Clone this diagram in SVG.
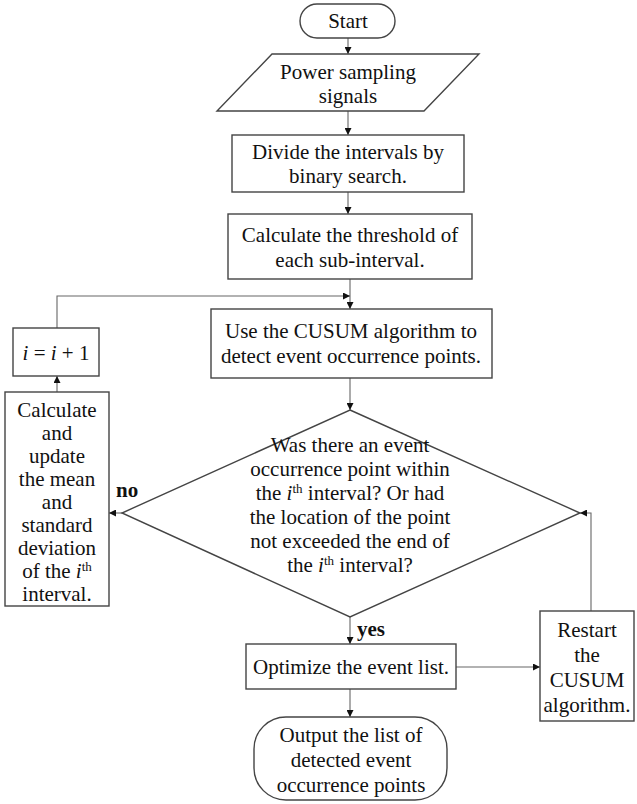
<svg xmlns="http://www.w3.org/2000/svg" width="637" height="804" viewBox="0 0 637 804">
<defs>
<marker id="ah" viewBox="0 0 10 10" refX="10" refY="5" markerWidth="7" markerHeight="7" markerUnits="userSpaceOnUse" orient="auto">
<path d="M0,0 L10,5 L0,10 z" fill="#111"/>
</marker>
<style>
.box{fill:#fff;stroke:#444;stroke-width:1.4}
.t{font-family:"Liberation Serif","Times New Roman",serif;font-size:21px;fill:#111;text-anchor:middle}
.lbl{font-family:"Liberation Serif","Times New Roman",serif;font-size:21px;font-weight:bold;fill:#111}
.c{fill:none;stroke:#666;stroke-width:1.1}
.sup{font-size:13px}
</style>
</defs>
<rect width="637" height="804" fill="#fff"/>
<g id="connectors">
<line class="c" x1="348" y1="38" x2="348" y2="54" marker-end="url(#ah)"/>
<line class="c" x1="348" y1="111" x2="348" y2="135" marker-end="url(#ah)"/>
<line class="c" x1="348" y1="192" x2="348" y2="214" marker-end="url(#ah)"/>
<line class="c" x1="350" y1="279" x2="350" y2="309" marker-end="url(#ah)"/>
<polyline class="c" points="57,328 57,296 350,296" marker-end="url(#ah)"/>
<line class="c" x1="350" y1="378" x2="350" y2="410" marker-end="url(#ah)"/>
<line class="c" x1="122" y1="513" x2="109" y2="513" marker-end="url(#ah)"/>
<line class="c" x1="57" y1="392" x2="57" y2="376" marker-end="url(#ah)"/>
<line class="c" x1="350" y1="617" x2="350" y2="644" marker-end="url(#ah)"/>
<line class="c" x1="456" y1="667" x2="540" y2="667" marker-end="url(#ah)"/>
<polyline class="c" points="591,611 591,513 580,513" marker-end="url(#ah)"/>
<line class="c" x1="350" y1="689" x2="350" y2="717" marker-end="url(#ah)"/>
<text class="lbl" x="116" y="497">no</text>
<text class="lbl" x="357" y="636">yes</text>
</g>
<g id="start">
<rect class="box" x="300" y="4" width="95" height="34" rx="17"/>
<text class="t" x="348" y="28">Start</text>
</g>
<g id="input">
<polygon class="box" points="272,54 479,54 424,111 217,111"/>
<text class="t" x="348" y="79">Power sampling</text>
<text class="t" x="348" y="103">signals</text>
</g>
<g id="divide">
<rect class="box" x="232" y="135" width="232" height="57"/>
<text class="t" x="348" y="159">Divide the intervals by</text>
<text class="t" x="348" y="183">binary search.</text>
</g>
<g id="threshold">
<rect class="box" x="228" y="214" width="244" height="65"/>
<text class="t" x="350" y="242">Calculate the threshold of</text>
<text class="t" x="350" y="267">each sub-interval.</text>
</g>
<g id="cusum">
<rect class="box" x="211" y="309" width="281" height="69"/>
<text class="t" x="351" y="338">Use the CUSUM algorithm to</text>
<text class="t" x="351" y="363">detect event occurrence points.</text>
</g>
<g id="increment">
<rect class="box" x="13" y="328" width="86" height="48"/>
<text class="t" x="56" y="360"><tspan font-style="italic">i</tspan> = <tspan font-style="italic">i</tspan> + 1</text>
</g>
<g id="update">
<rect class="box" x="5" y="392" width="104" height="214"/>
<text class="t" x="57" y="417">Calculate</text>
<text class="t" x="57" y="440">and</text>
<text class="t" x="57" y="463">update</text>
<text class="t" x="57" y="486">the mean</text>
<text class="t" x="57" y="509">and</text>
<text class="t" x="57" y="532">standard</text>
<text class="t" x="57" y="555">deviation</text>
<text class="t" x="57" y="578">of the <tspan font-style="italic">i</tspan><tspan class="sup" dy="-7">th</tspan></text>
<text class="t" x="57" y="601">interval.</text>
</g>
<g id="decision">
<polygon class="box" points="350,410 580,513 350,617 122,513"/>
<text class="t" x="350" y="452">Was there an event</text>
<text class="t" x="350" y="476">occurrence point within</text>
<text class="t" x="350" y="500">the <tspan font-style="italic">i</tspan><tspan class="sup" dy="-7">th</tspan><tspan dy="7"> interval? Or had</tspan></text>
<text class="t" x="350" y="524">the location of the point</text>
<text class="t" x="350" y="548">not exceeded the end of</text>
<text class="t" x="350" y="572">the <tspan font-style="italic">i</tspan><tspan class="sup" dy="-7">th</tspan><tspan dy="7"> interval?</tspan></text>
</g>
<g id="optimize">
<rect class="box" x="246" y="644" width="210" height="45"/>
<text class="t" x="351" y="674">Optimize the event list.</text>
</g>
<g id="restart">
<rect class="box" x="540" y="611" width="94" height="110"/>
<text class="t" x="587" y="637">Restart</text>
<text class="t" x="587" y="662">the</text>
<text class="t" x="587" y="687">CUSUM</text>
<text class="t" x="587" y="712">algorithm.</text>
</g>
<g id="output">
<rect class="box" x="254" y="717" width="193" height="83" rx="32"/>
<text class="t" x="351" y="742">Output the list of</text>
<text class="t" x="351" y="767">detected event</text>
<text class="t" x="351" y="792">occurrence points</text>
</g>
</svg>
